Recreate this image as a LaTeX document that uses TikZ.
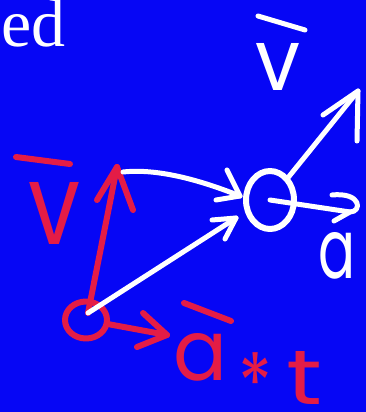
\documentclass[tikz,border=0pt]{standalone}
\usepackage{fontspec}
\usepackage{graphicx}
\newfontfamily\titlefont{Liberation Serif}
\newfontfamily\handfont{Poppins}
\usetikzlibrary{shapes.geometric}
\definecolor{bgblue}{RGB}{6,6,245}
\definecolor{inkred}{RGB}{228,28,70}
\newcommand\inkstar{\setbox0\hbox{*}\dimen0=\XeTeXglyphbounds4 \XeTeXcharglyph`\*\relax
  \raisebox{\dimen0}[\dimexpr\ht0+\dimen0\relax][0pt]{*}}
\begin{document}
\begin{tikzpicture}[x=1pt,y=-1pt, line cap=round, line join=round,
  wstroke/.style={draw=white, line width=5pt},
  rstroke/.style={draw=inkred, line width=6pt},
  letter/.style={inner sep=0pt, anchor=north west, font=\handfont},
  ring/.style={ellipse, inner sep=0pt, line width=6pt}]
\useasboundingbox (0,0) rectangle (366,412);
\fill[bgblue] (0,0) rectangle (366,412);

% heading fragment
\node[anchor=base west, inner sep=0pt, text=white, font=\titlefont\fontsize{68}{68}\selectfont] (title) at (1,47) {ed};

% points
\node[ring, draw=inkred, minimum width=42pt, minimum height=37pt] (P0) at (86,320) {};
\node[ring, draw=white, minimum width=48pt, minimum height=58pt] (P1) at (270,200) {};

\coordinate (vtail) at (88,313);
\coordinate (vtip) at (117,167);
\coordinate (atip) at (167,335);
\coordinate (wstart) at (123,172);
\coordinate (h1) at (236,218);
\coordinate (h2) at (240,196);
\coordinate (vtip2) at (358,91);
\coordinate (atip2) at (350,212);

% red vectors
\draw[rstroke] (vtail) -- (vtip);
\draw[rstroke] (vtip) -- ++(-20,33) (vtip) -- ++(16,43);
\draw[rstroke] (P0) -- (atip);
\draw[rstroke] (atip) -- ++(-24,-22) (atip) -- ++(-30,12);

% white vectors
\draw[wstroke] (vtail) -- (h1);
\draw[wstroke] (h1) -- ++(-24,2) (h1) -- ++(-11,21);
\draw[wstroke] (wstart) .. controls (160,168) and (205,182) .. (h2);
\draw[wstroke] (h2) -- ++(-13,-26) (h2) -- ++(-24,4);
\draw[wstroke] (P1) -- (vtip2);
\draw[wstroke] (vtip2) -- ++(-35,24) (vtip2) -- ++(-1,50);
\draw[wstroke] (P1.center) -- (atip2);
\draw[wstroke] (332,195) .. controls (362,192) and (362,212) .. (atip2) -- (334,221);

% labels
\draw[wstroke] (258,16) -- (305,30);
\node[letter, text=white] (vtop) at (255,43) {\resizebox{45pt}{47pt}{v}};
\node[letter, text=white] (alab) at (318,232) {\resizebox{37pt}{46pt}{a}};

\draw[rstroke] (16,157) -- (70,164);
\node[letter, text=inkred] (vleft) at (28,182) {\resizebox{52pt}{62pt}{v}};

\draw[rstroke] (184,303) -- (231,321);
\node[letter, text=inkred] (aleft) at (173,333) {\resizebox{54pt}{47pt}{a}};
\node[letter, text=inkred] (star) at (238,352) {\resizebox{34pt}{31pt}{\inkstar}};
\node[letter, text=inkred] (tlet) at (286,351) {\resizebox{36pt}{53pt}{t}};
\end{tikzpicture}
\end{document}
